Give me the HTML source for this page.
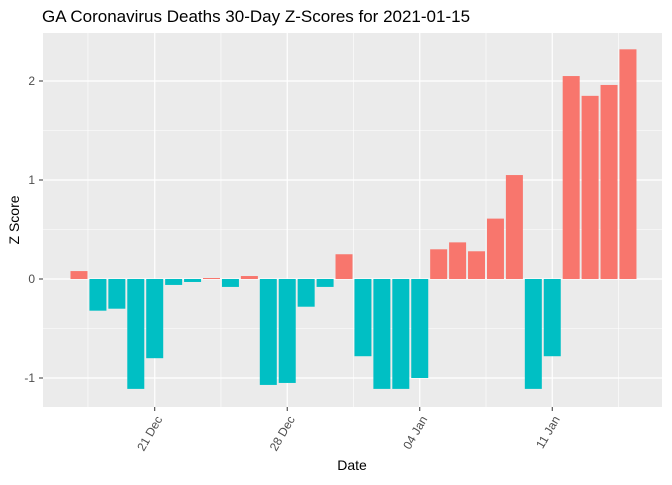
<!DOCTYPE html>
<html><head><meta charset="utf-8"><style>
body{margin:0;background:#fff;}
text{font-family:"Liberation Sans",sans-serif;}
</style></head><body>
<svg id="chart" width="672" height="480">
<text x="42" y="22" font-size="17" fill="#000">GA Coronavirus Deaths 30-Day Z-Scores for 2021-01-15</text>
<rect x="43" y="33" width="619" height="374" fill="#ebebeb"/>
<g id="grid"></g><g id="bars"></g><g id="axes"></g>
<text x="352" y="470" font-size="14" text-anchor="middle" fill="#000">Date</text>
<text transform="translate(19,220) rotate(-90)" font-size="14" text-anchor="middle" fill="#000">Z Score</text>
</svg>
<script>
const values=[0.08,-0.32,-0.30,-1.11,-0.80,-0.06,-0.03,0.01,-0.08,0.03,-1.07,-1.05,-0.28,-0.08,0.25,-0.78,-1.11,-1.11,-1.00,0.30,0.37,0.28,0.61,1.05,-1.11,-0.78,2.05,1.85,1.96,2.32];
const tickLabels=["21 Dec","28 Dec","04 Jan","11 Jan"];
const tickIdx=[4,11,18,25];
const yTicks=[-1,0,1,2];
const NS="http://www.w3.org/2000/svg";
const x=i=>79+i*18.93;
const y=v=>279-v*99;
function mk(tag,attrs,parent){const e=document.createElementNS(NS,tag);for(const k in attrs)e.setAttribute(k,attrs[k]);document.getElementById(parent).appendChild(e);return e;}
for(let v=-0.5;v<=2.5;v+=1){const g=mk('line',{x1:43,x2:662,y1:y(v),y2:y(v),stroke:'#fff','stroke-width':0.6},'grid');

}
for(let k=-1;k<tickIdx.length;k++){const xi=x((k<0?tickIdx[0]:tickIdx[k])+3.5)-(k<0?133:0);const g=mk('line',{x1:xi,x2:xi,y1:33,y2:407,stroke:'#fff','stroke-width':0.6},'grid');

}
yTicks.forEach(v=>{const g=mk('line',{x1:43,x2:662,y1:y(v),y2:y(v),stroke:'#fff','stroke-width':1.2},'grid');


const t=mk('line',{x1:39,x2:43,y1:y(v),y2:y(v),stroke:'#333'},'axes');


const l=mk('text',{x:35,y:y(v)+4,'font-size':12,'text-anchor':'end',fill:'#4d4d4d'},'axes');l.textContent=v;

});
tickIdx.forEach((i,k)=>{const xi=x(i);const g=mk('line',{x1:xi,x2:xi,y1:33,y2:407,stroke:'#fff','stroke-width':1.2},'grid');


const t=mk('line',{x1:xi,x2:xi,y1:407,y2:411,stroke:'#333'},'axes');


const l=mk('text',{transform:`translate(${xi+8},${419}) rotate(-60)`,'font-size':12,'text-anchor':'end',fill:'#4d4d4d'},'axes');l.textContent=tickLabels[k];

});
values.forEach((v,i)=>{const b=mk('rect',{x:x(i)-8.5,width:17,y:Math.min(y(v),y(0)),height:Math.abs(y(v)-y(0)),fill:v>0?'#f8766d':'#00bfc4'},'bars');

});
</script>
</body></html>
